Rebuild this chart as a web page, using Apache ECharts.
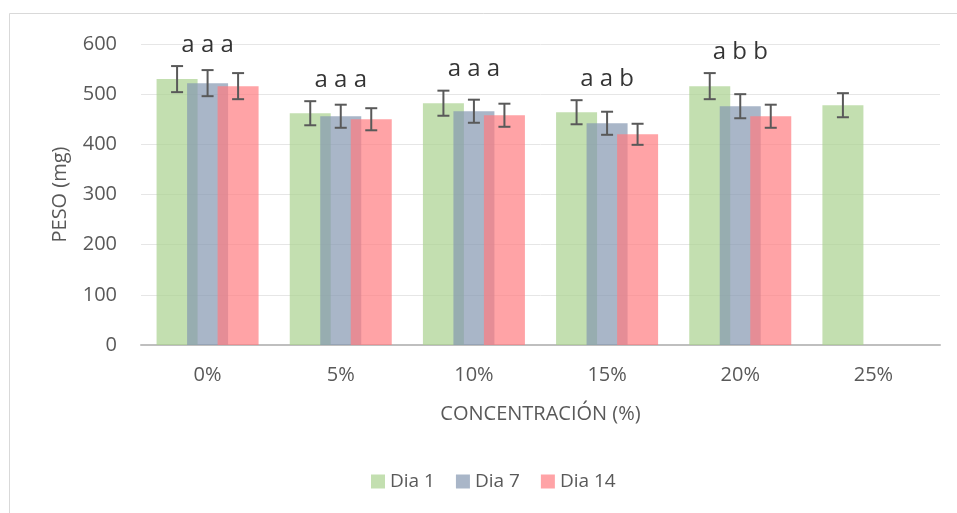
<!DOCTYPE html>
<html>
<head>
<meta charset="utf-8">
<script src="https://cdn.jsdelivr.net/npm/echarts@6/dist/echarts.min.js"></script>
<style>html,body{margin:0;padding:0;background:#fff;}#c{width:957px;height:513px;}</style>
</head>
<body>
<div id="c"></div>
<script>
const categories = ['0%', '5%', '10%', '15%', '20%', '25%'];
const seriesNames = ['Dia 1', 'Dia 7', 'Dia 14'];
const day1 = [530, 462, 482, 464, 516, 478];
const day7 = [522, 456, 466, 442, 476, null];
const day14 = [516, 450, 458, 420, 456, null];
const err1 = [26, 24, 25, 24, 26, 24];
const err7 = [26, 23, 23, 23, 24, null];
const err14 = [26, 22, 23, 21, 23, null];
const letters = ['a a a', 'a a a', 'a a a', 'a a b', 'a b b', ''];
const yTicks = [0, 100, 200, 300, 400, 500, 600];

const colors = ['#a9d18e', '#8497b0', '#ff7c80'];
const means = [day1, day7, day14];
const errs = [err1, err7, err14];
const BAR_W = 41;
const BAR_GAP = -0.256;
const STEP = BAR_W * (1 + BAR_GAP);
const FONT = '"Open Sans", "Noto Sans", sans-serif';

const chart = echarts.init(document.getElementById('c'), null, {renderer: 'canvas'});

const series = [];
seriesNames.forEach((name, i) => {
  series.push({
    name: name,
    type: 'bar',
    barWidth: BAR_W,
    barGap: (BAR_GAP * 100) + '%',
    data: means[i].map(v => v == null ? '-' : v),
    itemStyle: {color: colors[i], opacity: 0.7},
    emphasis: {disabled: true},
    z: 2
  });
});
seriesNames.forEach((name, i) => {
  const d = [];
  means[i].forEach((v, k) => { if (v != null) d.push([k, v, errs[i][k]]); });
  series.push({
    type: 'custom',
    name: name + ' err',
    data: d,
    z: 5,
    silent: true,
    encode: {x: 0, y: 1},
    renderItem: function (params, api) {
      const k = api.value(0), v = api.value(1), e = api.value(2);
      const x = api.coord([k, v])[0] + (i - 1) * STEP;
      const yt = api.coord([k, v + e])[1];
      const yb = api.coord([k, v - e])[1];
      const cap = 6;
      const st = {stroke: '#595959', lineWidth: 2};
      return {type: 'group', children: [
        {type: 'line', shape: {x1: x, y1: yt, x2: x, y2: yb}, style: st},
        {type: 'line', shape: {x1: x - cap, y1: yt, x2: x + cap, y2: yt}, style: st},
        {type: 'line', shape: {x1: x - cap, y1: yb, x2: x + cap, y2: yb}, style: st}
      ]};
    }
  });
});
// letter annotations placed above the highest error bar in each group
const letterData = categories.map((c, k) => {
  let top = 0;
  means.forEach((m, i) => { if (m[k] != null) top = Math.max(top, m[k] + errs[i][k]); });
  return [k, top];
});
series.push({
  type: 'scatter',
  name: 'letters',
  data: letterData,
  symbolSize: 0,
  silent: true,
  z: 6,
  label: {
    show: true, position: 'top', distance: 9,
    formatter: p => letters[p.dataIndex],
    color: '#000', fontSize: 24, lineHeight: 24, fontFamily: FONT
  }
});

chart.setOption({
  backgroundColor: '#ffffff',
  animation: false,
  graphic: [{
    type: 'rect', shape: {x: 9.5, y: 13.5, width: 1000, height: 600},
    style: {fill: 'none', stroke: '#d9d9d9', lineWidth: 1}, silent: true
  }],
  grid: {left: 141, right: 17, top: 44, bottom: 168},
  legend: {
    data: seriesNames,
    left: 366, top: 467,
    itemWidth: 14, itemHeight: 14, itemGap: 21,
    icon: 'rect',
    textStyle: {color: '#595959', fontSize: 19, fontFamily: FONT, padding: [0, 0, 0, 0]},
    itemStyle: {opacity: 0.7}
  },
  xAxis: {
    type: 'category',
    data: categories,
    name: 'CONCENTRACIÓN (%)',
    nameLocation: 'middle',
    nameGap: 59,
    nameTextStyle: {color: '#595959', fontSize: 20, fontFamily: FONT},
    axisLine: {lineStyle: {color: '#bfbfbf', width: 2}},
    axisTick: {show: false},
    axisLabel: {color: '#595959', fontSize: 20, fontFamily: FONT, margin: 20}
  },
  yAxis: {
    type: 'value',
    min: 0, max: 600, interval: 100,
    name: 'PESO (mg)',
    nameLocation: 'middle',
    nameGap: 71,
    nameRotate: 90,
    nameTextStyle: {color: '#595959', fontSize: 20, fontFamily: FONT},
    axisLine: {show: false},
    axisTick: {show: false},
    axisLabel: {color: '#595959', fontSize: 20, fontFamily: FONT, margin: 24,
      formatter: v => yTicks.indexOf(v) >= 0 ? String(v) : ''},
    splitLine: {lineStyle: {color: '#e6e6e6', width: 1}}
  },
  series: series
});
</script>
</body>
</html>
